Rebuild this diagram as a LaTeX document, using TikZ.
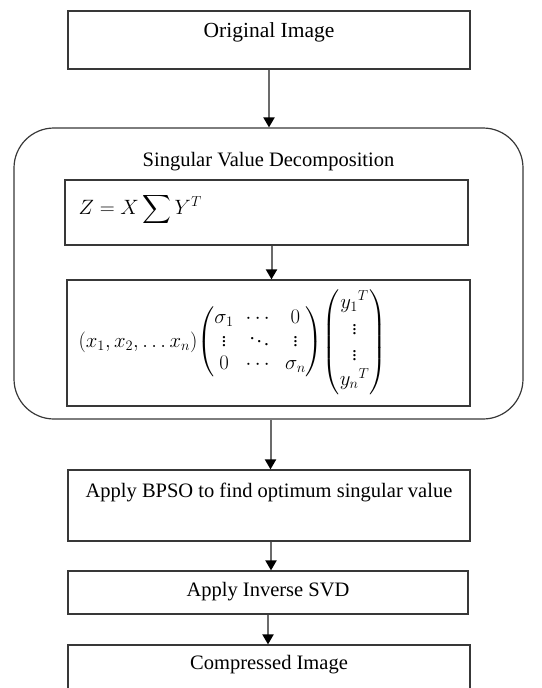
\documentclass[tikz,border=0pt]{standalone}
\usepackage{amsmath,amssymb}
\usepackage{fontspec}
\setmainfont{Liberation Serif}
\usetikzlibrary{arrows.meta, positioning}

\tikzset{
  stagebox/.style={draw=black!78, line width=1.2pt, rectangle, inner sep=0pt},
  flow/.style={draw=black!58, line width=2pt,
    -{Triangle[width=11pt, length=10pt, color=black, fill=black]}},
  caption/.style={font=\fontsize{20.5}{25}\selectfont, inner sep=0pt, anchor=north}
}

\begin{document}
\begin{tikzpicture}[x=1pt, y=-1pt]
					\useasboundingbox (0,0) rectangle (541,688);
					
					\node[stagebox, minimum width=402pt, minimum height=58pt] (orig) at (269,40) {};
					\node[caption, font=\fontsize{21.5}{25}\selectfont] (origtext) at ([yshift=-12pt]orig.north) {Original Image};
					
					\node[stagebox, rounded corners=40pt, minimum width=509pt, minimum height=291pt] (svd) at (268.5,273.5) {};
					\node[caption] (svdtext) at ([yshift=-25pt]svd.north) {Singular Value Decomposition};
					
					\node[stagebox, minimum width=403pt, minimum height=65pt] (zbox) at (266.5,212.5) {};
					\node[anchor=west, inner sep=0pt, font=\fontsize{20}{24}\selectfont] (zform) at ([xshift=14pt,yshift=3pt]zbox.west) {$Z = X\displaystyle\sum Y^{T}$};
					
					\node[stagebox, minimum width=403pt, minimum height=126pt] (mbox) at (268.5,343) {};
					\node[anchor=west, inner sep=0pt, font=\fontsize{19.5}{23}\selectfont] (mform) at ([xshift=12pt,yshift=1pt]mbox.west)
						{$\setlength{\arraycolsep}{6pt}(x_1,x_2,\dots x_n)\!\begin{pmatrix}\sigma_1 & \cdots & 0\\ \vdots & \ddots & \vdots\\ 0 & \cdots & \sigma_n\end{pmatrix}\!\renewcommand{\arraystretch}{1.12}\begin{pmatrix}{y_1}^{T}\\ \vdots\\ \vdots\\ {y_n}^{T}\end{pmatrix}$};
					
					\node[stagebox, minimum width=402pt, minimum height=71pt] (bpso) at (269,505.5) {};
					\node[caption] (bpsotext) at ([yshift=-13pt]bpso.north) {Apply BPSO to find optimum singular value};
					
					\node[stagebox, minimum width=400pt, minimum height=43pt] (inv) at (268,592.5) {};
					\node[caption] (invtext) at ([yshift=-12pt]inv.north) {Apply Inverse SVD};
					
					\node[stagebox, minimum width=402pt, minimum height=60pt] (comp) at (269,675) {};
					\node[caption] (comptext) at ([yshift=-11pt]comp.north) {Compressed Image};
					
					\draw[flow] (orig.south) -- (orig.south |- svd.north);
					\draw[flow] ([xshift=5pt]zbox.south) -- ([xshift=5pt]zbox.south |- mbox.north);
					\draw[flow] ([xshift=2pt]svd.south) -- ([xshift=2pt]svd.south |- bpso.north);
					\draw[flow] ([xshift=2pt]bpso.south) -- ([xshift=2pt]bpso.south |- inv.north);
					\draw[flow] (inv.south) -- (inv.south |- comp.north);
				\end{tikzpicture}
\end{document}
